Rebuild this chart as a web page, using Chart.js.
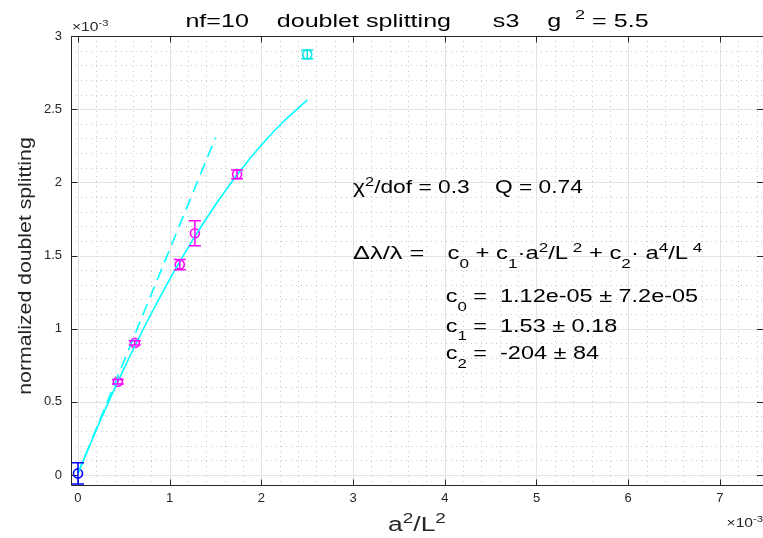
<!DOCTYPE html>
<html>
<head>
<meta charset="utf-8">
<script src="https://cdn.jsdelivr.net/npm/chart.js@4.4.1/dist/chart.umd.min.js"></script>
<style>
html, body { margin: 0; padding: 0; background: #fff; overflow: hidden; }
#wrap { width: 763px; height: 538px; }
</style>
</head>
<body>
<div id="wrap"><canvas id="chart" width="763" height="538"></canvas></div>
<script>
// all x values are a^2/L^2 and all y values the splitting, both in units of 1e-3
const extrapX = [0];
const extrapY = [0.0112];
const extrapErr = [0.072];

const fitX = [0.435, 0.62, 1.11, 1.275, 1.735];
const fitY = [0.637, 0.903, 1.438, 1.652, 2.055];
const fitErr = [0.015, 0.015, 0.035, 0.085, 0.03];

const extraX = [2.5];
const extraY = [2.874];
const extraErr = [0.03];

// fit result c0 + c1*a^2/L^2 + c2*a^4/L^4 (plain units)
const coef = [1.12e-05, 1.53, -204];
const curveX = [0, 0.25, 0.5, 0.75, 1, 1.25, 1.5, 1.75, 2, 2.25, 2.5];
const lineX = [0, 1.5];

const xTicks = [0, 1, 2, 3, 4, 5, 6, 7];
const xTickLabels = ['0', '1', '2', '3', '4', '5', '6', '7'];
const yTicks = [0, 0.5, 1, 1.5, 2, 2.5, 3];
const yTickLabels = ['0', '0.5', '1', '1.5', '2', '2.5', '3'];

const FONT = '"Liberation Sans", Arial, Helvetica, sans-serif';
const CYAN = '#00ffff';
const MAGENTA = '#ff00ff';
const BLUE = '#0000ff';

function quad(x) {
  const t = x * 1e-3;
  return (coef[0] + coef[1] * t + coef[2] * t * t) / 1e-3;
}
function lin(x) {
  const t = x * 1e-3;
  return (coef[0] + coef[1] * t) / 1e-3;
}
function pts(xs, ys) {
  return xs.map((x, i) => ({ x: x, y: ys[i] }));
}

// text runs: [string, shift] with shift 1 = superscript, -1 = subscript
function drawRich(ctx, parts, x, y, size, opt) {
  opt = opt || {};
  ctx.save();
  ctx.translate(x, y);
  if (opt.rotate) ctx.rotate(opt.rotate);
  ctx.scale(opt.sx || 1, 1);
  ctx.fillStyle = opt.color || '#000';
  ctx.textBaseline = 'alphabetic';
  ctx.textAlign = 'left';
  let total = 0;
  const runs = parts.map(([t, s]) => {
    const fs = s ? size * 0.72 : size;
    ctx.font = fs + 'px ' + FONT;
    const w = ctx.measureText(t).width;
    total += w;
    return { t, s, fs, w };
  });
  let cx = opt.align === 'center' ? -total / 2 : (opt.align === 'right' ? -total : 0);
  runs.forEach(r => {
    ctx.font = r.fs + 'px ' + FONT;
    const dy = r.s > 0 ? -size * 0.42 : (r.s < 0 ? size * 0.5 : 0);
    ctx.fillText(r.t, cx, dy);
    cx += r.w;
  });
  ctx.restore();
}

// grid, box and inward tick marks
const frame = {
  id: 'frame',
  beforeDatasetsDraw(chart) {
    const { ctx, chartArea: a, scales: { x, y } } = chart;
    const px = v => Math.round(x.getPixelForValue(v)) + 0.5;
    const py = v => Math.round(y.getPixelForValue(v)) + 0.5;
    ctx.save();
    ctx.lineWidth = 1;

    ctx.strokeStyle = '#c8c8c8';
    ctx.setLineDash([1, 4]);
    ctx.beginPath();
    for (let i = 1; i * 0.2 < x.max; i++) {
      if (i % 5 === 0) continue;
      const X = px(i * 0.2);
      ctx.moveTo(X, a.top); ctx.lineTo(X, a.bottom);
    }
    for (let i = 1; i * 0.1 < y.max; i++) {
      if (i % 5 === 0) continue;
      const Y = py(i * 0.1);
      ctx.moveTo(a.left, Y); ctx.lineTo(a.right, Y);
    }
    ctx.stroke();
    ctx.setLineDash([]);

    ctx.strokeStyle = '#e3e3e3';
    ctx.beginPath();
    xTicks.forEach(v => { const X = px(v); ctx.moveTo(X, a.top); ctx.lineTo(X, a.bottom); });
    yTicks.forEach(v => { const Y = py(v); ctx.moveTo(a.left, Y); ctx.lineTo(a.right, Y); });
    ctx.stroke();

    ctx.strokeStyle = '#262626';
    ctx.beginPath();
    const L = Math.round(a.left) + 0.5, B = Math.round(a.bottom) - 0.5, T = Math.round(a.top) + 0.5;
    ctx.moveTo(L, T); ctx.lineTo(L, B); ctx.lineTo(a.right, B);
    ctx.moveTo(L, T); ctx.lineTo(a.right, T);
    xTicks.forEach(v => {
      const X = px(v);
      ctx.moveTo(X, B); ctx.lineTo(X, B - 6);
      ctx.moveTo(X, T); ctx.lineTo(X, T + 6);
    });
    yTicks.forEach(v => {
      const Y = py(v);
      ctx.moveTo(L, Y); ctx.lineTo(L + 6, Y);
      ctx.moveTo(a.right, Y); ctx.lineTo(a.right - 6, Y);
    });
    ctx.stroke();
    ctx.restore();
  }
};

// vertical error bars with caps, taken from dataset.errors
const errorBars = {
  id: 'errorBars',
  afterDatasetsDraw(chart) {
    const { ctx, scales: { x, y } } = chart;
    ctx.save();
    chart.data.datasets.forEach(ds => {
      if (!ds.errors) return;
      ctx.strokeStyle = ds.borderColor;
      ctx.lineWidth = 1.5;
      ds.data.forEach((p, i) => {
        const X = x.getPixelForValue(p.x);
        const y0 = y.getPixelForValue(p.y - ds.errors[i]);
        const y1 = y.getPixelForValue(p.y + ds.errors[i]);
        ctx.beginPath();
        ctx.moveTo(X, y0); ctx.lineTo(X, y1);
        ctx.moveTo(X - 6, y0); ctx.lineTo(X + 6, y0);
        ctx.moveTo(X - 6, y1); ctx.lineTo(X + 6, y1);
        ctx.stroke();
      });
    });
    ctx.restore();
  }
};

// title, axis labels, exponent markers and fit annotation
const texts = {
  id: 'texts',
  afterDraw(chart) {
    const { ctx, chartArea: a, scales: { x, y } } = chart;
    const cx = (a.left + a.right) / 2;

    drawRich(ctx, [['nf=10    doublet splitting      s3    g  ', 0], ['2', 1], [' = 5.5', 0]],
      cx, a.top - 9, 19, { align: 'center', sx: 1.32 });

    drawRich(ctx, [['a', 0], ['2', 1], ['/L', 0], ['2', 1]],
      cx, 531, 20, { align: 'center', sx: 1.32, color: '#262626' });

    drawRich(ctx, [['normalized doublet splitting', 0]],
      31, (a.top + a.bottom) / 2 + 5, 18, { align: 'center', sx: 1.18, rotate: -Math.PI / 2, color: '#262626' });

    drawRich(ctx, [['\u00d710', 0], ['-3', 1]], a.left + 1, a.top - 5, 13, { color: '#262626', sx: 1.2 });
    drawRich(ctx, [['\u00d710', 0], ['-3', 1]], a.right, 527, 13, { color: '#262626', align: 'right', sx: 1.2 });

    const fs = 17.5, SX = 1.34;
    drawRich(ctx, [['\u03c7', 0], ['2', 1], ['/dof = 0.3    Q = 0.74', 0]],
      x.getPixelForValue(3.0), y.getPixelForValue(1.925), fs, { sx: 1.3 });
    drawRich(ctx, [['\u0394\u03bb/\u03bb =', 0]],
      x.getPixelForValue(3.0), y.getPixelForValue(1.473), fs, { sx: 1.45 });
    drawRich(ctx, [['c', 0], ['0', -1], [' + c', 0], ['1', -1], ['\u00b7a', 0], ['2', 1], ['/L', 0], [' 2', 1],
      [' + c', 0], ['2', -1], ['\u00b7 a', 0], ['4', 1], ['/L', 0], [' 4', 1]],
      x.getPixelForValue(4.03), y.getPixelForValue(1.473), fs, { sx: 1.36 });
    drawRich(ctx, [['c', 0], ['0', -1], [' =  1.12e-05 \u00b1 7.2e-05', 0]],
      x.getPixelForValue(4.01), y.getPixelForValue(1.18), fs, { sx: SX });
    drawRich(ctx, [['c', 0], ['1', -1], [' =  1.53 \u00b1 0.18', 0]],
      x.getPixelForValue(4.01), y.getPixelForValue(0.98), fs, { sx: SX });
    drawRich(ctx, [['c', 0], ['2', -1], [' =  -204 \u00b1 84', 0]],
      x.getPixelForValue(4.01), y.getPixelForValue(0.79), fs, { sx: SX });
  }
};

const marker = color => ({
  showLine: false,
  borderColor: color,
  backgroundColor: 'rgba(0,0,0,0)',
  pointStyle: 'circle',
  pointRadius: 4.5,
  pointBorderWidth: 1.6
});

new Chart(document.getElementById('chart'), {
  type: 'scatter',
  data: {
    datasets: [
      {
        data: curveX.map(v => ({ x: v, y: quad(v) })),
        showLine: true, borderColor: CYAN, borderWidth: 1.6, pointRadius: 0, tension: 0.3
      },
      {
        data: lineX.map(v => ({ x: v, y: lin(v) })),
        showLine: true, borderColor: CYAN, borderWidth: 1.6, pointRadius: 0, borderDash: [12, 7]
      },
      Object.assign({ data: pts(extrapX, extrapY), errors: extrapErr }, marker(BLUE)),
      Object.assign({ data: pts(fitX, fitY), errors: fitErr }, marker(MAGENTA)),
      Object.assign({ data: pts(extraX, extraY), errors: extraErr }, marker('#00e8e8'))
    ]
  },
  options: {
    responsive: false,
    animation: false,
    events: [],
    layout: { autoPadding: false, padding: { left: 0, right: 0, top: 36, bottom: 0 } },
    plugins: { legend: { display: false }, tooltip: { enabled: false } },
    scales: {
      x: {
        type: 'linear', min: -0.076, max: 7.47,
        grid: { display: false, drawTicks: false },
        border: { display: false },
        afterBuildTicks: s => { s.ticks = xTicks.map(v => ({ value: v })); },
        afterFit: s => { s.height = 52; s.paddingLeft = 0; s.paddingRight = 0; },
        ticks: {
          autoSkip: false, maxRotation: 0, padding: 5, color: '#262626',
          font: { family: FONT, size: 13 },
          callback: (v, i) => xTickLabels[i]
        }
      },
      y: {
        type: 'linear', min: -0.075, max: 3,
        grid: { display: false, drawTicks: false },
        border: { display: false },
        afterBuildTicks: s => { s.ticks = yTicks.map(v => ({ value: v })); },
        afterFit: s => { s.width = 71; s.paddingTop = 0; s.paddingBottom = 0; },
        ticks: {
          autoSkip: false, padding: 9, color: '#262626',
          font: { family: FONT, size: 13 },
          callback: (v, i) => yTickLabels[i]
        }
      }
    }
  },
  plugins: [frame, errorBars, texts]
});
</script>
</body>
</html>
